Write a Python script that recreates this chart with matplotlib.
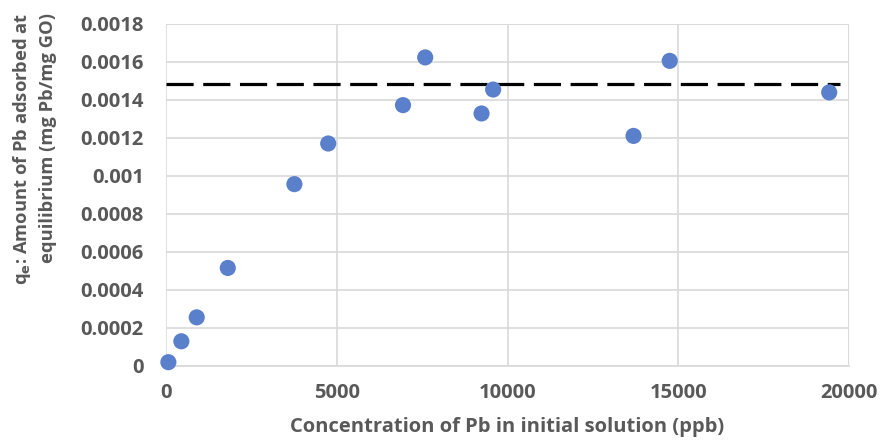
import matplotlib
matplotlib.use("Agg")
import matplotlib.pyplot as plt

# data
conc_ppb = [70, 450, 900, 1810, 3760, 4750, 6940, 7590, 9240, 9580, 13690, 14750, 19420]
qe = [0.00002, 0.00013, 0.000256, 0.000516, 0.000957, 0.001171, 0.001373, 0.001624,
      0.001329, 0.001455, 0.001211, 0.001606, 0.00144]
qmax = 0.001483
qmax_span = [0, 19750]

x_ticks = [0, 5000, 10000, 15000, 20000]
y_ticks = [0, 0.0002, 0.0004, 0.0006, 0.0008, 0.001, 0.0012, 0.0014, 0.0016, 0.0018]
y_labels = ["0", "0.0002", "0.0004", "0.0006", "0.0008", "0.001", "0.0012", "0.0014", "0.0016", "0.0018"]

text_color = "#595959"
grid_color = "#D9D9D9"

plt.rcParams["font.family"] = ["Open Sans", "DejaVu Sans"]
plt.rcParams["font.weight"] = "bold"

fig = plt.figure(figsize=(8.81, 4.40), dpi=100)
ax = fig.add_axes([0.1884, 0.1682, 0.7753, 0.7773])

ax.plot(qmax_span, [qmax, qmax], color="black", lw=2.3, dashes=(8.5, 3.0), zorder=3)
ax.scatter(conc_ppb, qe, s=135, color="#5A7FCB", edgecolors="none", zorder=4, clip_on=False)

ax.set_xlim(0, 20000)
ax.set_ylim(0, 0.0018)
ax.set_xticks(x_ticks)
ax.set_xticklabels([str(t) for t in x_ticks])
ax.set_yticks(y_ticks)
ax.set_yticklabels(y_labels)
ax.tick_params(axis="both", length=0, labelsize=14.5, labelcolor=text_color)
ax.tick_params(axis="y", pad=16)
ax.tick_params(axis="x", pad=12)

ax.grid(True, color=grid_color, lw=1.2, zorder=0)
ax.set_axisbelow(True)
for side in ["top", "right", "left"]:
    ax.spines[side].set_visible(False)
ax.spines["bottom"].set_color(grid_color)
ax.spines["bottom"].set_linewidth(1.2)
# right/top boundary lines drawn like gridlines
ax.axvline(20000, color=grid_color, lw=1.2, zorder=0)
ax.axhline(0.0018, color=grid_color, lw=1.2, zorder=0)

ax.set_xlabel("Concentration of Pb in initial solution (ppb)", fontsize=14.5,
              color=text_color, fontweight="bold", labelpad=10)

# two-line y label, both lines aligned at the top like the original
ylab_kw = dict(rotation=90, ha="center", va="top", fontsize=13.2,
               color=text_color, fontweight="bold")
fig.text(0.025, 0.970, "q$_\\mathbf{e}$: Amount of Pb adsorbed at", **ylab_kw)
fig.text(0.0545, 0.970, "equilibrium (mg Pb/mg GO)", **ylab_kw)

fig.savefig("out.png", dpi=100)
